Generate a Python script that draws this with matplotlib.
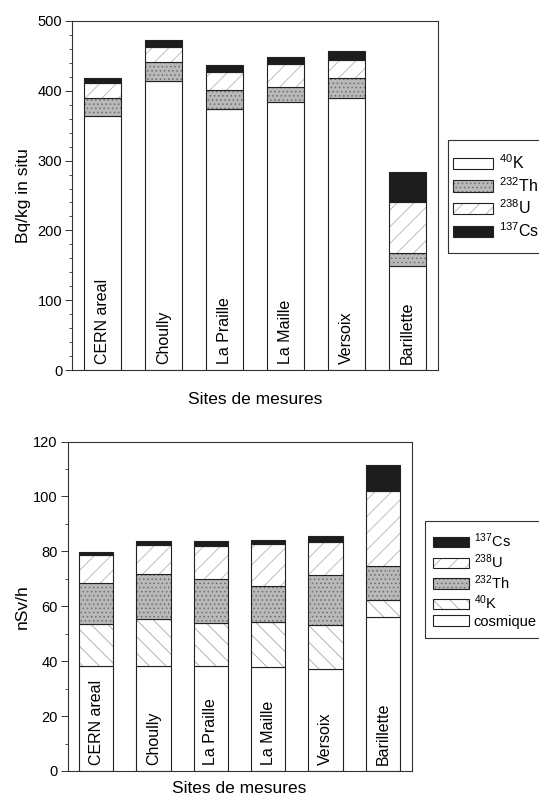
import matplotlib
matplotlib.use('Agg')
import matplotlib.pyplot as plt
from matplotlib.patches import Patch, Rectangle
from matplotlib.ticker import MultipleLocator
import numpy as np

plt.rcParams['font.family'] = ['Liberation Sans', 'DejaVu Sans']
plt.rcParams['mathtext.fontset'] = 'custom'
plt.rcParams['mathtext.rm'] = 'Liberation Sans'
plt.rcParams['mathtext.it'] = 'Liberation Sans:italic'
plt.rcParams['mathtext.bf'] = 'Liberation Sans:bold'
plt.rcParams['hatch.linewidth'] = 0.6

sites = ['CERN areal', 'Choully', 'La Praille', 'La Maille', 'Versoix', 'Barillette']

# Top chart: activity (Bq/kg in situ)
k40_bq = [364, 414, 374, 384, 389, 149]
th232_bq = [26, 27, 27, 22, 30, 19]
u238_bq = [21, 22, 26, 33, 25, 72]
cs137_bq = [7, 10, 10, 9, 13, 43]

# Bottom chart: dose rate (nSv/h)
cosmique_nsv = [38.3, 38.3, 38.3, 37.9, 37.1, 56.0]
k40_nsv = [15.3, 17.2, 15.5, 16.4, 16.0, 6.2]
th232_nsv = [14.9, 16.3, 16.3, 13.2, 18.4, 12.4]
u238_nsv = [10.0, 10.4, 11.7, 15.0, 11.9, 27.4]
cs137_nsv = [1.1, 1.7, 1.8, 1.7, 2.2, 9.4]

lab_k = r'$^{40}$K'
lab_th = r'$^{232}$Th'
lab_u = r'$^{238}$U'
lab_cs = r'$^{137}$Cs'
lab_cos = 'cosmique'

STY = {
    'plain': dict(face='white', hatch=None, hc='white'),
    'stipple': dict(face='#b9b9b9', hatch='....', hc='#6e6e6e'),
    'fwd': dict(face='white', hatch='//', hc='#b4b4b4'),
    'back': dict(face='white', hatch='\\\\', hc='#a8a8a8'),
    'black': dict(face='#1c1c1c', hatch=None, hc='#1c1c1c'),
}
EDGE = '#222222'
WIDTH = 0.6


def stacked(ax, layers):
    x = np.arange(1, len(sites) + 1)
    bottom = np.zeros(len(sites))
    for vals, sty in layers:
        s = STY[sty]
        v = np.asarray(vals, dtype=float)
        ax.bar(x, v, WIDTH, bottom=bottom, color=s['face'], hatch=s['hatch'],
               edgecolor=s['hc'], linewidth=0)
        ax.bar(x, v, WIDTH, bottom=bottom, fill=False, edgecolor=EDGE,
               linewidth=0.8)
        bottom = bottom + v
    for xi, name in zip(x, sites):
        ax.text(xi, 0.018, name, rotation=90, ha='center', va='bottom',
                fontsize=11.5, transform=ax.get_xaxis_transform())


def handle(sty):
    s = STY[sty]
    return (Patch(facecolor=s['face'], hatch=s['hatch'], edgecolor=s['hc'], linewidth=0),
            Patch(fill=False, edgecolor=EDGE, linewidth=0.8))


def style_axes(ax, ymax, major, minor, ylabel, ylpad, xlpad):
    ax.set_xlim(0.5, 6.5)
    ax.set_ylim(0, ymax)
    ax.set_xticks([])
    ax.yaxis.set_major_locator(MultipleLocator(major))
    ax.yaxis.set_minor_locator(MultipleLocator(minor))
    ax.tick_params(axis='y', which='major', direction='out', length=5, width=0.7,
                   labelsize=10.5, pad=2, color='#333333')
    ax.tick_params(axis='y', which='minor', direction='out', length=2.5, width=0.6,
                   color='#333333')
    for sp in ax.spines.values():
        sp.set_linewidth(0.8)
        sp.set_color('#333333')
    ax.set_ylabel(ylabel, fontsize=12.5, labelpad=ylpad)
    ax.set_xlabel('Sites de mesures', fontsize=12.5, labelpad=xlpad)


def box(fig, x0, y0, x1, y1):
    fig.add_artist(Rectangle((x0 / 539, 1 - y1 / 800), (x1 - x0) / 539, (y1 - y0) / 800,
                             transform=fig.transFigure, fill=False,
                             edgecolor='#333333', linewidth=0.8))


fig = plt.figure(figsize=(5.39, 8.0), dpi=100)

ax1 = fig.add_axes([72 / 539, 1 - 370 / 800, (437.7 - 72) / 539, 349 / 800])
stacked(ax1, [(k40_bq, 'plain'), (th232_bq, 'stipple'), (u238_bq, 'fwd'),
              (cs137_bq, 'black')])
style_axes(ax1, 500, 100, 20, 'Bq/kg in situ', 5, 15.5)

ax2 = fig.add_axes([67.5 / 539, 1 - 771 / 800, (411.7 - 67.5) / 539, 329.5 / 800])
stacked(ax2, [(cosmique_nsv, 'plain'), (k40_nsv, 'back'), (th232_nsv, 'stipple'),
              (u238_nsv, 'fwd'), (cs137_nsv, 'black')])
style_axes(ax2, 120, 20, 10, 'nSv/h', 2.3, 7)

fig.legend([handle('plain'), handle('stipple'), handle('fwd'), handle('black')],
           [lab_k, lab_th, lab_u, lab_cs],
           loc='center left', bbox_to_anchor=(453 / 539, 1 - 196.5 / 800),
           borderaxespad=0, borderpad=0, fontsize=11.5, frameon=False,
           handlelength=2.5, handleheight=0.7, handletextpad=0.4,
           labelspacing=0.25)
box(fig, 448, 140, 545, 253)

fig.legend([handle('black'), handle('fwd'), handle('stipple'), handle('back'),
            handle('plain')],
           [lab_cs, lab_u, lab_th, lab_k, lab_cos],
           loc='center left', bbox_to_anchor=(433 / 539, 1 - 580 / 800),
           borderaxespad=0, borderpad=0, fontsize=10.5, frameon=False,
           handlelength=2.5, handleheight=0.7, handletextpad=0.3,
           labelspacing=0.15)
box(fig, 425, 521, 545, 638)

fig.savefig('out.png', dpi=100)
